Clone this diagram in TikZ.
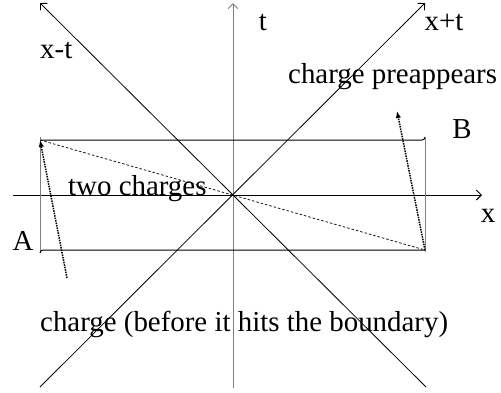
\documentclass[tikz,border=0pt]{standalone}
\usepackage{fontspec}
\setmainfont{Liberation Serif}
\usetikzlibrary{arrows.meta}
\begin{document}
\begin{tikzpicture}[x=1pt,y=-1pt,
  lbl/.style={inner sep=0pt, font=\fontsize{28.9}{32}\selectfont},
  axis/.style={line width=1pt, -{Straight Barb[length=5pt,width=10pt]}},
  gaxis/.style={axis, draw={rgb,255:red,128;green,128;blue,128}},
  cone/.style={line width=0.8pt, -{Straight Barb[length=5pt,width=10pt]}},
  edge/.style={line width=1pt},
  gedge/.style={line width=1pt, draw={rgb,255:red,128;green,128;blue,128}},
  path/.style={line width=1.5pt, densely dotted, -{Latex[length=7pt,width=5.5pt]}},
  diag/.style={line width=0.7pt, dash pattern=on 2.5pt off 2pt}]
\useasboundingbox (0,0) rectangle (501,392);
% coordinates
\coordinate (O) at (233,195);
\coordinate (tb) at (233,388);
\coordinate (tt) at (233,3);
\coordinate (xl) at (13,195);
\coordinate (xr) at (482,195);
\coordinate (m1) at (426,387);
\coordinate (m2) at (40,3);
\coordinate (p1) at (40,387);
\coordinate (p2) at (425,3);
\coordinate (TL) at (40,140);
\coordinate (TR) at (425,140);
\coordinate (BL) at (40,250);
\coordinate (BR) at (425,250);
\coordinate (s1) at (67,278);
\coordinate (e2) at (397,111);
% axes and light cone
\draw[gaxis] (tb) -- (tt);
\draw[axis] (xl) -- (xr);
\draw[cone] (m1) -- (m2);
\draw[cone] (p1) -- (p2);
% boundary box
\draw[edge, rounded corners=3pt] (TL) -- (TR) -- ([yshift=3pt]TR);
\draw[gedge] ([yshift=3pt]TR) -- ([yshift=-2pt]BR);
\draw[gedge] ([yshift=3pt]TL) -- ([yshift=-3pt]BL);
\draw[edge, rounded corners=3pt] ([yshift=-3pt]BL) -- (BL) -- (BR);
% dashed line between charges
\draw[diag] (TL) -- (BR);
% charge paths
\draw[path] (s1) -- (TL);
\draw[path] (BR) -- (e2);
% labels
\node[lbl, anchor=base] (lt) at (263,30) {t};
\node[lbl, anchor=base] (lxpt) at (444,30) {x+t};
\node[lbl, anchor=base west] (lxmt) at (40,58) {x-t};
\node[lbl, anchor=base west] (lpre) at (288,83) {charge preappears};
\node[lbl, anchor=base] (lB) at (462,138) {B};
\node[lbl, anchor=base west] (ltwo) at (68,195) {two charges};
\node[lbl, anchor=base] (lA) at (23,250) {A};
\node[lbl, anchor=base] (lx) at (488,222) {x};
\node[lbl, anchor=base west] (lbef) at (40,331) {charge (before it hits the boundary)};
\end{tikzpicture}
\end{document}
